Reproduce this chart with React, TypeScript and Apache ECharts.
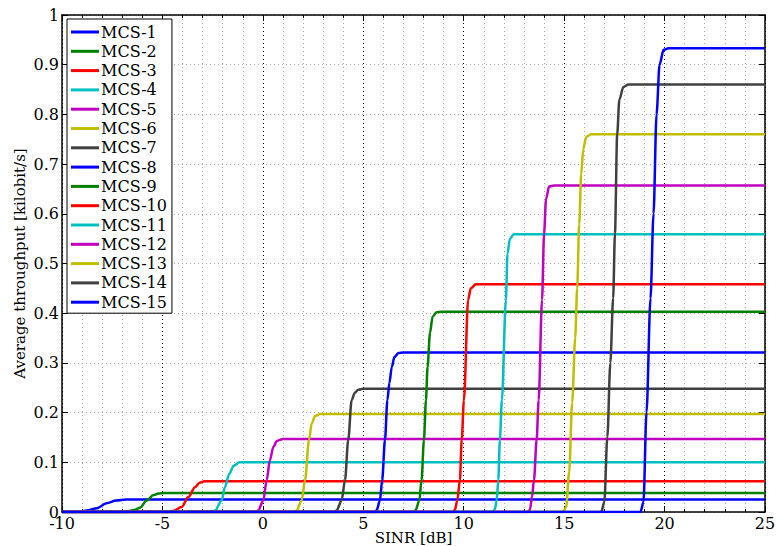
import React, { useEffect, useRef } from "react";
import * as echarts from "echarts";

const seriesNames = [
  "MCS-1", "MCS-2", "MCS-3", "MCS-4", "MCS-5", "MCS-6", "MCS-7", "MCS-8",
  "MCS-9", "MCS-10", "MCS-11", "MCS-12", "MCS-13", "MCS-14", "MCS-15",
];

const seriesColors = [
  "#0000ff", "#008000", "#ff0000", "#00bfbf", "#bf00bf", "#bfbf00", "#404040",
  "#0000ff", "#008000", "#ff0000", "#00bfbf", "#bf00bf", "#bfbf00", "#404040",
  "#0000ff",
];

const mcs1 = [[-10, 0], [-9.4, 0], [-9.1, 0.001], [-8.7, 0.0035], [-8.27, 0.0075], [-7.78, 0.0175], [-7.3, 0.023], [-6.8, 0.025], [25, 0.025]];
const mcs2 = [[-10, 0], [-7.0, 0], [-6.78, 0.001], [-6.4, 0.004], [-6.12, 0.0085], [-5.78, 0.023], [-5.45, 0.034], [-5.2, 0.037], [-4.9, 0.038], [25, 0.038]];
const mcs3 = [[-10, 0], [-4.7, 0], [-4.47, 0.002], [-4.04, 0.01], [-3.71, 0.03], [-3.38, 0.05], [-3.15, 0.059], [-2.9, 0.062], [25, 0.062]];
const mcs4 = [[-10, 0], [-2.55, 0], [-2.38, 0.003], [-2.05, 0.023], [-1.89, 0.05], [-1.67, 0.077], [-1.45, 0.093], [-1.15, 0.1], [25, 0.1]];
const mcs5 = [[-10, 0], [-0.4, 0], [-0.23, 0.003], [0.02, 0.023], [0.19, 0.064], [0.35, 0.104], [0.52, 0.131], [0.7, 0.143], [1.0, 0.147], [25, 0.147]];
const mcs6 = [[-10, 0], [1.55, 0], [1.68, 0.003], [1.93, 0.023], [2.1, 0.064], [2.3, 0.145], [2.43, 0.178], [2.6, 0.193], [2.85, 0.197], [25, 0.197]];
const mcs7 = [[-10, 0], [3.55, 0], [3.67, 0.003], [3.92, 0.023], [4.09, 0.064], [4.25, 0.145], [4.42, 0.225], [4.58, 0.24], [4.75, 0.246], [5.0, 0.248], [25, 0.248]];
const mcs8 = [[-10, 0], [5.55, 0], [5.66, 0.003], [5.83, 0.023], [5.94, 0.064], [6.08, 0.145], [6.2, 0.225], [6.3, 0.26], [6.42, 0.292], [6.55, 0.312], [6.75, 0.32], [7.0, 0.321], [25, 0.321]];
const mcs9 = [[-10, 0], [7.45, 0], [7.6, 0.003], [7.79, 0.023], [7.9, 0.064], [8.02, 0.145], [8.12, 0.225], [8.2, 0.292], [8.32, 0.36], [8.45, 0.393], [8.65, 0.402], [8.9, 0.403], [25, 0.403]];
const mcs10 = [[-10, 0], [9.45, 0], [9.56, 0.004], [9.68, 0.023], [9.81, 0.064], [9.9, 0.145], [10.01, 0.225], [10.22, 0.427], [10.35, 0.45], [10.6, 0.458], [25, 0.458]];
const mcs11 = [[-10, 0], [11.4, 0], [11.55, 0.005], [11.64, 0.023], [11.72, 0.064], [11.8, 0.145], [11.9, 0.225], [12.1, 0.427], [12.18, 0.52], [12.3, 0.55], [12.5, 0.559], [25, 0.559]];
const mcs12 = [[-10, 0], [13.2, 0], [13.3, 0.005], [13.4, 0.03], [13.5, 0.065], [13.63, 0.145], [13.73, 0.225], [13.9, 0.427], [14.0, 0.56], [14.1, 0.63], [14.25, 0.655], [14.5, 0.657], [25, 0.657]];
const mcs13 = [[-10, 0], [14.95, 0], [15.1, 0.01], [15.25, 0.08], [15.4, 0.22], [15.55, 0.35], [15.65, 0.45], [15.75, 0.58], [15.85, 0.68], [15.95, 0.73], [16.1, 0.755], [16.35, 0.76], [25, 0.76]];
const mcs14 = [[-10, 0], [16.85, 0], [17.0, 0.02], [17.15, 0.15], [17.3, 0.3], [17.44, 0.43], [17.53, 0.56], [17.64, 0.76], [17.75, 0.83], [17.95, 0.855], [18.2, 0.86], [25, 0.86]];
const mcs15 = [[-10, 0], [18.8, 0], [18.95, 0.02], [19.1, 0.2], [19.3, 0.43], [19.45, 0.6], [19.6, 0.8], [19.75, 0.9], [19.95, 0.93], [20.2, 0.933], [25, 0.933]];

const seriesData = [mcs1, mcs2, mcs3, mcs4, mcs5, mcs6, mcs7, mcs8, mcs9, mcs10, mcs11, mcs12, mcs13, mcs14, mcs15];

const xMin = -10;
const xMax = 25;
const xStep = 5;
const yMin = 0;
const yMax = 1;
const yStep = 0.1;

const FONT = "DejaVu Serif";

export default function App() {
  const ref = useRef<HTMLDivElement>(null);
  useEffect(() => {
    if (!ref.current) return;
    const chart = echarts.init(ref.current, null, { renderer: "svg" });
    const dotted = { type: [1, 3] as any, width: 1 };
    const option: any = {
      animation: false,
      backgroundColor: "#ffffff",
      textStyle: { fontFamily: FONT },
      grid: { left: 62, right: 12, top: 15, bottom: 34, containLabel: false, outerBoundsMode: "none" },
      legend: {
        show: true,
        left: 67,
        top: 19,
        orient: "vertical",
        data: seriesNames,
        backgroundColor: "#ffffff",
        borderColor: "#000000",
        borderWidth: 1,
        borderRadius: 0,
        padding: [5, 5, 3, 4],
        itemWidth: 28,
        itemHeight: 3,
        itemGap: 3.3,
        icon: "rect",
        textStyle: { fontFamily: FONT, fontSize: 16, color: "#000", lineHeight: 15, padding: [0, 0, 0, -3] },
      },
      xAxis: [
        {
          type: "value",
          min: xMin,
          max: xMax,
          interval: xStep,
          name: "SINR [dB]",
          nameLocation: "middle",
          nameGap: 18,
          nameMoveOverlap: false,
          nameTextStyle: { fontFamily: FONT, fontSize: 15, color: "#000" },
          axisLine: { show: true, onZero: false, lineStyle: { color: "#000", width: 1.5 } },
          axisTick: { show: true, inside: true, length: 6, lineStyle: { color: "#000" } },
          minorTick: { show: true, splitNumber: 5, length: 3, lineStyle: { color: "#000" } },
          axisLabel: { fontFamily: FONT, fontSize: 16, color: "#000", margin: 3 },
          splitLine: { show: true, lineStyle: { color: "#000", ...dotted } },
          minorSplitLine: { show: true, lineStyle: { color: "#aaaaaa", ...dotted } },
        },
        {
          type: "value",
          position: "top",
          min: xMin,
          max: xMax,
          interval: xStep,
          axisLine: { show: true, onZero: false, lineStyle: { color: "#000", width: 1.5 } },
          axisTick: { show: true, inside: true, length: 6, lineStyle: { color: "#000" } },
          minorTick: { show: true, splitNumber: 5, length: 3, lineStyle: { color: "#000" } },
          axisLabel: { show: false },
          splitLine: { show: false },
        },
      ],
      yAxis: [
        {
          type: "value",
          min: yMin,
          max: yMax,
          interval: yStep,
          name: "Average throughput [kilobit/s]",
          nameLocation: "middle",
          nameGap: 35,
          nameMoveOverlap: false,
          nameTextStyle: { fontFamily: FONT, fontSize: 15, color: "#000" },
          axisLine: { show: true, onZero: false, lineStyle: { color: "#000", width: 1.5 } },
          axisTick: { show: true, inside: true, length: 6, lineStyle: { color: "#000" } },
          axisLabel: { fontFamily: FONT, fontSize: 16, color: "#000", margin: 3 },
          splitLine: { show: true, lineStyle: { color: "#aaaaaa", ...dotted } },
        },
        {
          type: "value",
          position: "right",
          min: yMin,
          max: yMax,
          interval: yStep,
          axisLine: { show: true, onZero: false, lineStyle: { color: "#000", width: 1.5 } },
          axisTick: { show: true, inside: true, length: 6, lineStyle: { color: "#000" } },
          axisLabel: { show: false },
          splitLine: { show: false },
        },
      ],
      series: seriesNames.map((name, i) => ({
        name,
        type: "line",
        data: seriesData[i],
        xAxisIndex: 0,
        yAxisIndex: 0,
        showSymbol: false,
        symbol: "none",
        smooth: 0.3,
        smoothMonotone: "x",
        color: seriesColors[i],
        lineStyle: { color: seriesColors[i], width: 2.5 },
        clip: true,
      })),
    };
    chart.setOption(option);
    return () => chart.dispose();
  }, []);
  return (
    <div
      ref={ref}
      style={{ position: "fixed", left: 0, top: 0, width: 777, height: 546 }}
    />
  );
}
